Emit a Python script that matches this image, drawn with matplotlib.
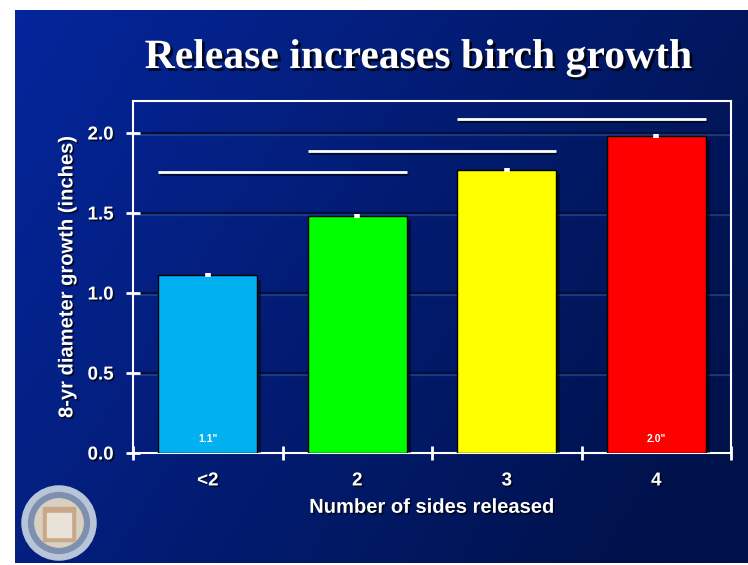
import numpy as np
import matplotlib
matplotlib.use("Agg")
import matplotlib.pyplot as plt
import matplotlib.patheffects as pe
from matplotlib.patches import Circle, Rectangle

categories = ["<2", "2", "3", "4"]
values = [1.11, 1.48, 1.77, 1.98]
errors = [0.012, 0.012, 0.012, 0.012]
bar_colors = ["#00B0F0", "#00FF00", "#FFFF00", "#FF0000"]
inside_labels = {0: '1.1"', 3: '2.0"'}
# significance lines: (start category, end category, y level)
sig_lines = [(0, 1, 1.755), (1, 2, 1.885), (2, 3, 2.09)]
yticks = [0.0, 0.5, 1.0, 1.5, 2.0]
title = "Release increases birch growth"
xlabel = "Number of sides released"
ylabel = "8-yr diameter growth (inches)"

W, H = 748, 565
fig = plt.figure(figsize=(W / 100, H / 100), dpi=100)
fig.patch.set_facecolor("white")

shadow = [pe.withSimplePatchShadow(offset=(1.2, -1.2), shadow_rgbFace="black", alpha=0.7)]

# background slide with gradient
bg = fig.add_axes([15 / W, 0.003, 1 - 15 / W, 1 - 10 / H - 0.003])
bg.set_axis_off()
nx, ny = 300, 200
xx, yy = np.meshgrid(np.linspace(0, 1, nx), np.linspace(0, 1, ny))
t = np.clip(0.75 * xx + 0.35 * yy, 0, 1)
c0 = np.array([0x05, 0x26, 0x9C]) / 255
c1 = np.array([0x00, 0x12, 0x4A]) / 255
img = c0[None, None, :] * (1 - t[..., None]) + c1[None, None, :] * t[..., None]
bg.imshow(img, aspect="auto", extent=[0, 1, 0, 1], origin="upper")
bg.set_xlim(0, 1)
bg.set_ylim(0, 1)

# seal logo
logo = fig.add_axes([20 / W, 1 - 563 / H, 78 / W, 80 / H])
logo.set_axis_off()
logo.set_xlim(-1, 1)
logo.set_ylim(-1, 1)
logo.set_aspect("equal")
logo.add_patch(Circle((0, 0), 0.95, color="#B8C4D8"))
logo.add_patch(Circle((0, 0), 0.78, color="#7F8FB0"))
logo.add_patch(Circle((0, 0), 0.62, color="#D8D0C0"))
logo.add_patch(Rectangle((-0.4, -0.45), 0.8, 0.85, color="#C9A88A"))
logo.add_patch(Rectangle((-0.3, -0.35), 0.6, 0.6, color="#E8E2D8"))

ax = fig.add_axes([133 / W, 1 - 453 / H, (731 - 133) / W, (453 - 101) / H])
ax.set_facecolor("none")
x = np.arange(len(categories))
ax.set_xlim(-0.5, len(categories) - 0.5)
ax.set_ylim(0, 2.2)

for yv in yticks[1:]:
    ax.axhline(yv, color="#00103A", lw=1.6, zorder=1,
               path_effects=[pe.SimpleLineShadow(offset=(0, -1.5), shadow_color="#3050A0", alpha=0.6), pe.Normal()])

bars = ax.bar(x, values, width=0.66, color=bar_colors, edgecolor="black", linewidth=1, zorder=3)
for b in bars:
    b.set_path_effects([pe.SimplePatchShadow(offset=(3, -3), shadow_rgbFace="black", alpha=0.5), pe.Normal()])
ax.errorbar(x, values, yerr=errors, fmt="none", ecolor="white", elinewidth=4, capsize=0, zorder=4)

for i, txt in inside_labels.items():
    ax.text(x[i], 0.09, txt, color="white", fontsize=7.5, fontweight="bold",
            ha="center", va="center", family="Liberation Sans", zorder=5)

for a, b_, yv in sig_lines:
    ax.plot([x[a] - 0.33, x[b_] + 0.33], [yv, yv], color="white", lw=2, zorder=5,
            solid_capstyle="butt",
            path_effects=[pe.SimpleLineShadow(offset=(1, -1.5), shadow_color="black", alpha=0.6), pe.Normal()])

for s in ax.spines.values():
    s.set_color("white")
    s.set_linewidth(1.5)
ax.set_yticks(yticks)
ax.set_yticklabels([f"{v:.1f}" for v in yticks])
ax.set_xticks(np.arange(-0.5, len(categories) - 0.4, 1.0))
ax.set_xticklabels([])
ax.set_xticks(x, minor=True)
ax.set_xticklabels(categories, minor=True)
ax.tick_params(axis="x", which="major", direction="inout", length=10, width=2, color="white")
ax.tick_params(axis="x", which="minor", length=0, pad=14)
ax.tick_params(axis="y", direction="inout", length=10, width=2, color="white", pad=9)
for lab in ax.get_yticklabels() + ax.get_xticklabels(minor=True):
    lab.set_color("white")
    lab.set_fontweight("bold")
    lab.set_fontsize(13.5)
    lab.set_family("Liberation Sans")
    lab.set_path_effects(shadow)

ax.set_xlabel(xlabel, color="white", fontsize=14.5, fontweight="bold", family="Liberation Sans",
              labelpad=6, path_effects=shadow)
ax.set_ylabel(ylabel, color="white", fontsize=14.5, fontweight="bold", family="Liberation Sans",
              labelpad=8, path_effects=shadow)

fig.text(418 / W, 1 - 58 / H, title, color="white", fontsize=30, fontweight="bold",
         family="Liberation Serif", ha="center", va="center",
         path_effects=[pe.withSimplePatchShadow(offset=(2, -2), shadow_rgbFace="black", alpha=0.8)])

fig.savefig("out.png", dpi=100, facecolor=fig.get_facecolor())
